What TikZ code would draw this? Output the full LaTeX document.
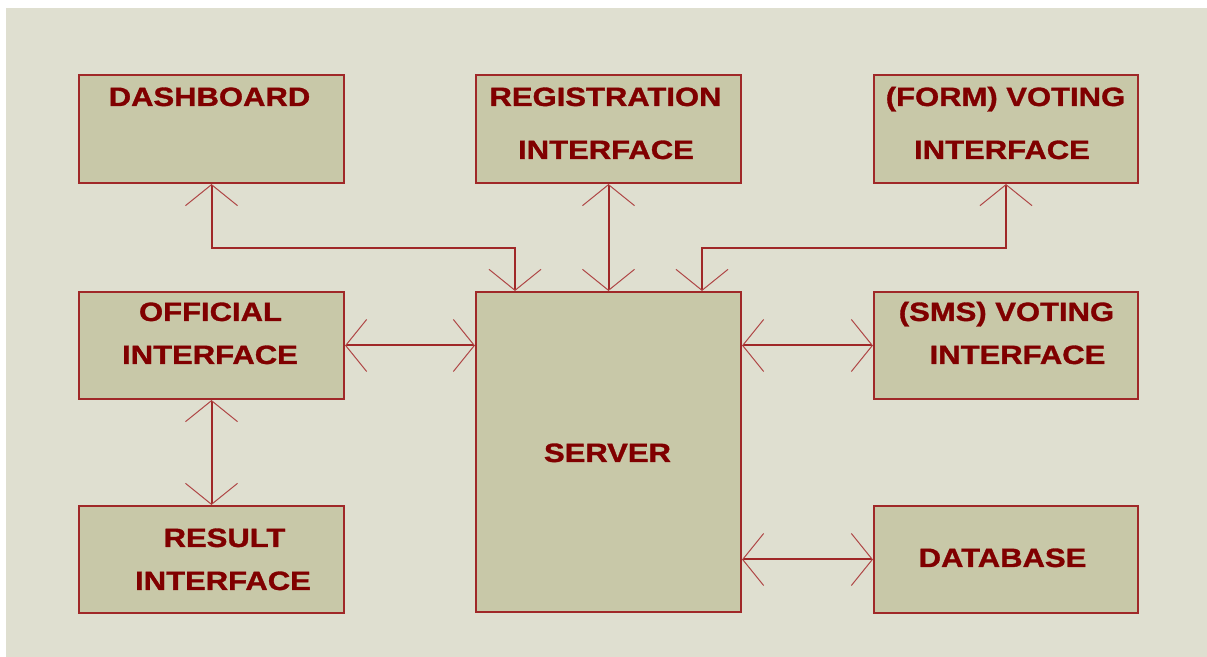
\documentclass[tikz,border=0pt]{standalone}
\usepackage{fontspec}
\usepackage{xcolor}
\usepackage{tikz}
\usetikzlibrary{arrows.meta}
\newfontfamily\boxfont{Liberation Sans}[FakeStretch=1.17,FakeBold=1.2]

\definecolor{panel}{RGB}{223,223,208}
\definecolor{boxfill}{RGB}{200,200,168}
\definecolor{edgered}{RGB}{160,40,40}
\definecolor{textred}{RGB}{128,0,0}
\definecolor{wingred}{RGB}{175,70,70}

\tikzset{
  barb/.tip={Straight Barb[length=10.5pt,width=26pt,line width=0.5pt,color=wingred]},
  unit/.style={draw=edgered,fill=boxfill,line width=1pt,rectangle,inner sep=0pt,
    minimum width=132.5pt,minimum height=54pt},
  lbl/.style={anchor=base,inner sep=0pt,text=textred,
    font=\boxfont\bfseries\fontsize{13.25}{16}\selectfont},
  link/.style={draw=edgered,line width=1pt,barb-barb}
}

\begin{document}
\begin{tikzpicture}[x=0.5pt,y=-0.5pt]
  \useasboundingbox (0,0) rectangle (1207,657);
  \fill[panel] (6,8) rectangle (1207,657);
  % top row
  \node[unit] (dash) at (211.5,129) {};
  \node[unit] (reg) at (608.5,129) {};
  \node[unit,minimum width=132pt] (form) at (1006,129) {};
  % middle row
  \node[unit,minimum height=53.5pt] (off) at (211.5,345.5) {};
  \node[unit,minimum height=160pt] (srv) at (608.5,452) {};
  \node[unit,minimum width=132pt,minimum height=53.5pt] (sms) at (1006,345.5) {};
  % bottom row
  \node[unit,minimum height=53.5pt] (res) at (211.5,559.5) {};
  \node[unit,minimum width=132pt,minimum height=53.5pt] (db) at (1006,559.5) {};
  % labels
  \node[lbl] (dashT) at (209.5,106) {DASHBOARD};
  \node[lbl] (regT) at (605.5,106) {REGISTRATION};
  \node[lbl] (regB) at (606,159) {INTERFACE};
  \node[lbl] (formT) at (1005.5,106) {(FORM) VOTING};
  \node[lbl] (formB) at (1002,159) {INTERFACE};
  \node[lbl] (offT) at (210.5,321) {OFFICIAL};
  \node[lbl] (offB) at (210,364) {INTERFACE};
  \node[lbl] (smsT) at (1006.5,321) {(SMS) VOTING};
  \node[lbl] (smsB) at (1017.5,364) {INTERFACE};
  \node[lbl] (srvT) at (607.5,462) {SERVER};
  \node[lbl] (resT) at (224.5,547) {RESULT};
  \node[lbl] (resB) at (223,590) {INTERFACE};
  \node[lbl] (dbT) at (1002.5,567) {DATABASE};
  % links to the server
  \draw[link] (dash.south) -- ++(0,64) -| ([xshift=20pt]srv.north west);
  \draw[link] (reg.south) -- (reg.south |- srv.north);
  \draw[link] (form.south) -- ++(0,64) -| ([xshift=-20pt]srv.north east);
  \draw[link] (off.east) -- (off.east -| srv.west);
  \draw[link] (sms.west -| srv.east) -- (sms.west);
  \draw[link] (db.west -| srv.east) -- (db.west);
  \draw[link] (off.south) -- (res.north);
\end{tikzpicture}
\end{document}
